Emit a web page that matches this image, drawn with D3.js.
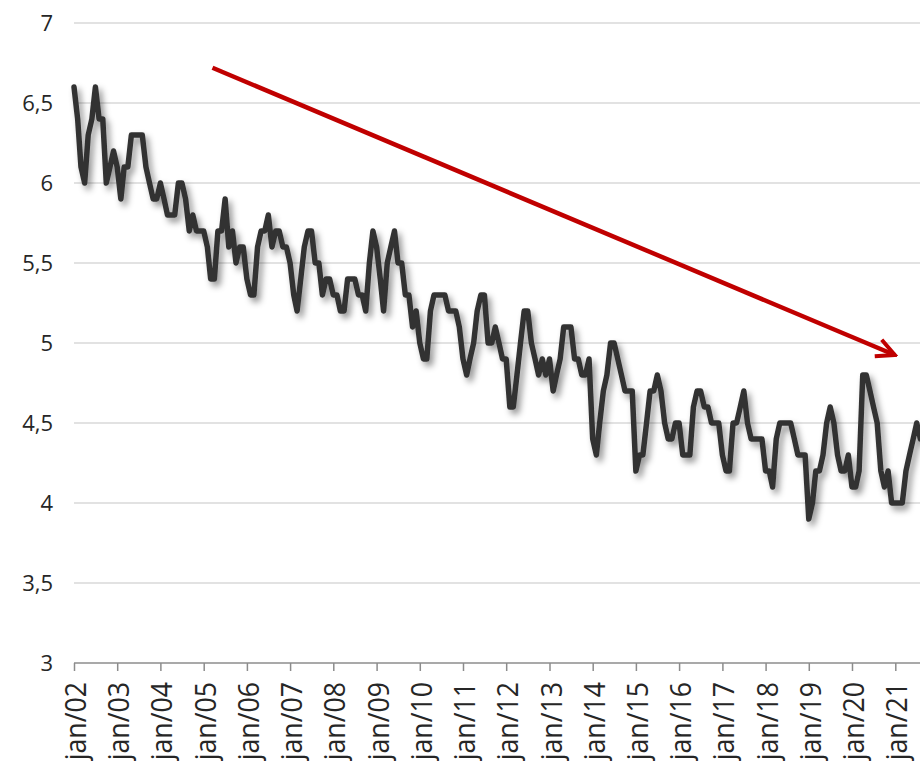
<!DOCTYPE html>
<html><head><meta charset="utf-8">
<script src="https://cdn.jsdelivr.net/npm/d3@7"></script>
<style>html,body{margin:0;padding:0;background:#fff;overflow:hidden}</style>
</head><body>
<svg id="chart" width="920" height="761"></svg>
<script>
// ---- data ----
const startMonth = "2002-01";
const rates = [
  6.6, 6.4, 6.1, 6.0, 6.3, 6.4, 6.6, 6.4, 6.4, 6.0, 6.1, 6.2,   // 2002
  6.1, 5.9, 6.1, 6.1, 6.3, 6.3, 6.3, 6.3, 6.1, 6.0, 5.9, 5.9,   // 2003
  6.0, 5.9, 5.8, 5.8, 5.8, 6.0, 6.0, 5.9, 5.7, 5.8, 5.7, 5.7,   // 2004
  5.7, 5.6, 5.4, 5.4, 5.7, 5.7, 5.9, 5.6, 5.7, 5.5, 5.6, 5.6,   // 2005
  5.4, 5.3, 5.3, 5.6, 5.7, 5.7, 5.8, 5.6, 5.7, 5.7, 5.6, 5.6,   // 2006
  5.5, 5.3, 5.2, 5.4, 5.6, 5.7, 5.7, 5.5, 5.5, 5.3, 5.4, 5.4,   // 2007
  5.3, 5.3, 5.2, 5.2, 5.4, 5.4, 5.4, 5.3, 5.3, 5.2, 5.5, 5.7,   // 2008
  5.6, 5.4, 5.2, 5.5, 5.6, 5.7, 5.5, 5.5, 5.3, 5.3, 5.1, 5.2,   // 2009
  5.0, 4.9, 4.9, 5.2, 5.3, 5.3, 5.3, 5.3, 5.2, 5.2, 5.2, 5.1,   // 2010
  4.9, 4.8, 4.9, 5.0, 5.2, 5.3, 5.3, 5.0, 5.0, 5.1, 5.0, 4.9,   // 2011
  4.9, 4.6, 4.6, 4.8, 5.0, 5.2, 5.2, 5.0, 4.9, 4.8, 4.9, 4.8,   // 2012
  4.9, 4.7, 4.8, 4.9, 5.1, 5.1, 5.1, 4.9, 4.9, 4.8, 4.8, 4.9,   // 2013
  4.4, 4.3, 4.5, 4.7, 4.8, 5.0, 5.0, 4.9, 4.8, 4.7, 4.7, 4.7,   // 2014
  4.2, 4.3, 4.3, 4.5, 4.7, 4.7, 4.8, 4.7, 4.5, 4.4, 4.4, 4.5,   // 2015
  4.5, 4.3, 4.3, 4.3, 4.6, 4.7, 4.7, 4.6, 4.6, 4.5, 4.5, 4.5,   // 2016
  4.3, 4.2, 4.2, 4.5, 4.5, 4.6, 4.7, 4.5, 4.4, 4.4, 4.4, 4.4,   // 2017
  4.2, 4.2, 4.1, 4.4, 4.5, 4.5, 4.5, 4.5, 4.4, 4.3, 4.3, 4.3,   // 2018
  3.9, 4.0, 4.2, 4.2, 4.3, 4.5, 4.6, 4.5, 4.3, 4.2, 4.2, 4.3,   // 2019
  4.1, 4.1, 4.2, 4.8, 4.8, 4.7, 4.6, 4.5, 4.2, 4.1, 4.2, 4.0,   // 2020
  4.0, 4.0, 4.0, 4.2, 4.3, 4.4, 4.5, 4.4                        // 2021
];
const yTicks = [3, 3.5, 4, 4.5, 5, 5.5, 6, 6.5, 7];
const xTickYears = [2002, 2003, 2004, 2005, 2006, 2007, 2008, 2009, 2010, 2011,
                    2012, 2013, 2014, 2015, 2016, 2017, 2018, 2019, 2020, 2021];
const arrowFrom = ["2005-03-16", 6.72];
const arrowTo = ["2020-12-28", 4.925];

// ---- chart ----
const W = 920, H = 761;
const svg = d3.select("#chart");
const parseM = d3.timeParse("%Y-%m");
const parseD = d3.timeParse("%Y-%m-%d");
const t0 = parseM(startMonth);
const data = rates.map((v, i) => ({ date: d3.timeMonth.offset(t0, i), v }));

const x = d3.scaleTime()
  .domain([new Date(2002, 0, 1), new Date(2021, 0, 1)])
  .range([74, 895.3]);
const y = d3.scaleLinear().domain([3, 7]).range([663, 23]);

const defs = svg.append("defs");
const f = defs.append("filter").attr("id", "shadow")
  .attr("x", "-5%").attr("y", "-5%").attr("width", "115%").attr("height", "120%");
f.append("feDropShadow").attr("dx", 3.5).attr("dy", 4.5).attr("stdDeviation", 3)
  .attr("flood-color", "#000").attr("flood-opacity", 0.42);

defs.append("marker").attr("id", "arrowhead")
  .attr("markerUnits", "userSpaceOnUse")
  .attr("viewBox", "0 0 24 24").attr("refX", 21).attr("refY", 12)
  .attr("markerWidth", 24).attr("markerHeight", 24).attr("orient", "auto")
  .append("path").attr("d", "M3,3 L21,12 L3,21")
  .attr("fill", "none").attr("stroke", "#c00000").attr("stroke-width", 4)
  .attr("stroke-linecap", "butt").attr("stroke-linejoin", "miter");

// gridlines
svg.append("g").selectAll("line").data(yTicks.filter(d => d !== 3)).join("line")
  .attr("x1", 74).attr("x2", W)
  .attr("y1", d => y(d)).attr("y2", d => y(d))
  .attr("stroke", "#d9d9d9").attr("stroke-width", 1.3);

// y labels
const fmt = d => String(d).replace(".", ",");
svg.append("g").selectAll("text").data(yTicks).join("text")
  .attr("transform", d => `translate(53,${y(d)})`)
  .attr("text-anchor", "end").attr("dy", "0.35em")
  .attr("font-family", "'Open Sans', sans-serif").attr("font-size", 22)
  .attr("fill", "#262626")
  .text(fmt);

// x axis
const tickDates = xTickYears.map(yr => new Date(yr, 0, 1));
const xAxis = d3.axisBottom(x).tickValues(tickDates).tickSize(8).tickSizeOuter(0)
  .tickFormat(d => "jan/" + d3.timeFormat("%y")(d));
const gx = svg.append("g").attr("transform", `translate(0,${y(3)})`).call(xAxis);
gx.select(".domain").remove();
gx.append("line").attr("x1", 74).attr("x2", W).attr("y1", 0).attr("y2", 0)
  .attr("stroke", "#8c8c8c").attr("stroke-width", 1.5);
gx.selectAll(".tick line").attr("stroke", "#8c8c8c").attr("stroke-width", 1.5);
gx.selectAll(".tick text")
  .attr("font-family", "'Open Sans', sans-serif").attr("font-size", 29)
  .attr("fill", "#262626")
  .attr("text-anchor", "end")
  .attr("transform", "translate(11.5,19) rotate(-90) scale(0.92,1)")
  .attr("x", 0).attr("y", 0).attr("dy", 0);

// line
const line = d3.line().x(d => x(d.date)).y(d => y(d.v));
svg.append("path").datum(data)
  .attr("d", line)
  .attr("fill", "none").attr("stroke", "#333333").attr("stroke-width", 5.5)
  .attr("stroke-linejoin", "round").attr("stroke-linecap", "round")
  .attr("filter", "url(#shadow)");

// trend arrow
svg.append("line")
  .attr("x1", x(parseD(arrowFrom[0]))).attr("y1", y(arrowFrom[1]))
  .attr("x2", x(parseD(arrowTo[0]))).attr("y2", y(arrowTo[1]))
  .attr("stroke", "#c00000").attr("stroke-width", 4.5)
  .attr("marker-end", "url(#arrowhead)");
</script>
</body></html>
